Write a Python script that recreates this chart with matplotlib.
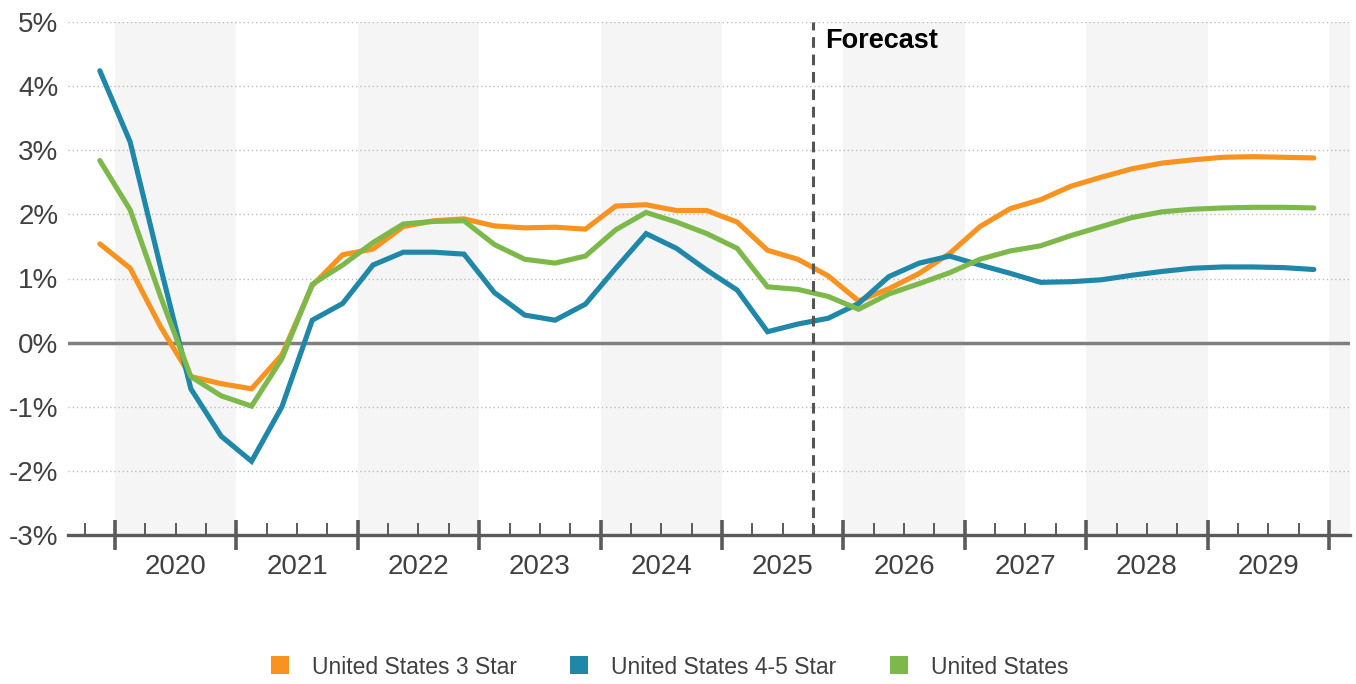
import numpy as np
import matplotlib.pyplot as plt
from matplotlib.lines import Line2D

plt.rcParams['font.family'] = ['Liberation Sans', 'DejaVu Sans']

# quarterly periods, 2019 Q4 .. 2029 Q4 (plotted at quarter midpoints)
years = list(range(2020, 2030))
periods = [2019.875 + 0.25 * i for i in range(41)]
forecast_start = 2025.75

star3 = [1.54, 1.16, 0.25, -0.53, -0.64, -0.72, -0.19, 0.89, 1.37, 1.46, 1.81, 1.90,
         1.93, 1.82, 1.79, 1.80, 1.77, 2.13, 2.15, 2.06, 2.06, 1.88, 1.44, 1.30, 1.04,
         0.65, 0.84, 1.08, 1.39, 1.81, 2.09, 2.23, 2.44, 2.58, 2.71, 2.80, 2.85, 2.89,
         2.90, 2.89, 2.88]
star45 = [4.24, 3.13, 1.18, -0.72, -1.46, -1.85, -1.00, 0.35, 0.61, 1.21, 1.41, 1.41,
          1.38, 0.78, 0.43, 0.35, 0.60, 1.16, 1.70, 1.47, 1.13, 0.82, 0.17, 0.29, 0.38,
          0.61, 1.03, 1.24, 1.35, 1.21, 1.08, 0.94, 0.95, 0.98, 1.05, 1.11, 1.16, 1.18,
          1.18, 1.17, 1.14]
us_all = [2.84, 2.07, 0.72, -0.53, -0.83, -0.99, -0.25, 0.91, 1.21, 1.56, 1.85, 1.89,
          1.90, 1.53, 1.30, 1.24, 1.35, 1.76, 2.03, 1.88, 1.70, 1.47, 0.87, 0.83, 0.72,
          0.52, 0.76, 0.92, 1.09, 1.30, 1.43, 1.51, 1.67, 1.81, 1.95, 2.04, 2.08, 2.10,
          2.11, 2.11, 2.10]

series = [
    ('United States 3 Star', star3, '#F7931E'),
    ('United States 4-5 Star', star45, '#1F87A8'),
    ('United States', us_all, '#7DB94A'),
]

fig = plt.figure(figsize=(13.56, 6.84), dpi=100)
ax = fig.add_axes([68 / 1356, 1 - 535 / 684, 1282 / 1356, 513 / 684])

x0, x1 = 2019.613, 2030.173
ax.set_xlim(x0, x1)
ax.set_ylim(-3, 5)

# alternating year bands
for yr in range(2020, 2031, 2):
    ax.axvspan(yr, yr + 1, color='#F5F5F5', zorder=0, lw=0)

# grid
for v in range(-2, 6):
    ax.axhline(v, color='#BDBDBD', lw=1, ls=(0, (1, 2)), zorder=1)
ax.axhline(0, color='#7F7F7F', lw=2.5, zorder=2)

for name, vals, col in series:
    ax.plot(periods, vals, color=col, lw=3.7, solid_capstyle='round',
            solid_joinstyle='miter', zorder=4)

ax.axvline(forecast_start, color='#555555', lw=2.2, dashes=(3.5, 2.2), zorder=5)
ax.annotate('Forecast', xy=(forecast_start, 1), xycoords=('data', 'axes fraction'),
            xytext=(8.5, -4.5), textcoords='offset points', ha='left', va='top',
            fontsize=19.5, fontweight='bold', color='#000000')

for s in ['left', 'right', 'top']:
    ax.spines[s].set_visible(False)
ax.spines['bottom'].set_color('#5A5A5A')
ax.spines['bottom'].set_linewidth(2.4)

ax.set_yticks(range(-3, 6))
ax.set_yticklabels([f'{v}%' for v in range(-3, 6)])
ax.tick_params(axis='y', length=0, pad=7, labelsize=20, labelcolor='#404040')

bounds = list(range(2020, 2031))
ax.set_xticks(bounds)
ax.set_xticklabels([])
quarters = [q for q in np.arange(2019.75, 2030.01, 0.25) if abs(q - round(q)) > 1e-6]
ax.set_xticks(quarters, minor=True)
ax.tick_params(axis='x', which='major', direction='inout', length=22, width=2.6,
               color='#5A5A5A')
ax.tick_params(axis='x', which='minor', direction='in', length=9, width=1.4,
               color='#5A5A5A')

sec = ax.secondary_xaxis('bottom')
sec.set_xticks([y + 0.5 for y in years])
sec.set_xticklabels([str(y) for y in years])
sec.tick_params(length=0, pad=14, labelsize=20, labelcolor='#404040')
sec.spines['bottom'].set_visible(False)

handles = [Line2D([], [], ls='none', marker='s', markersize=13.5, color=c,
                  markeredgewidth=0) for _, _, c in series]
fig.legend(handles, [n for n, _, _ in series], loc='center', ncol=3,
           bbox_to_anchor=(0.493, 1 - 667 / 684), frameon=False, fontsize=16.5,
           handlelength=1.0, handletextpad=0.9, columnspacing=2.2,
           labelcolor='#404040')

fig.savefig('out.png', dpi=100)
